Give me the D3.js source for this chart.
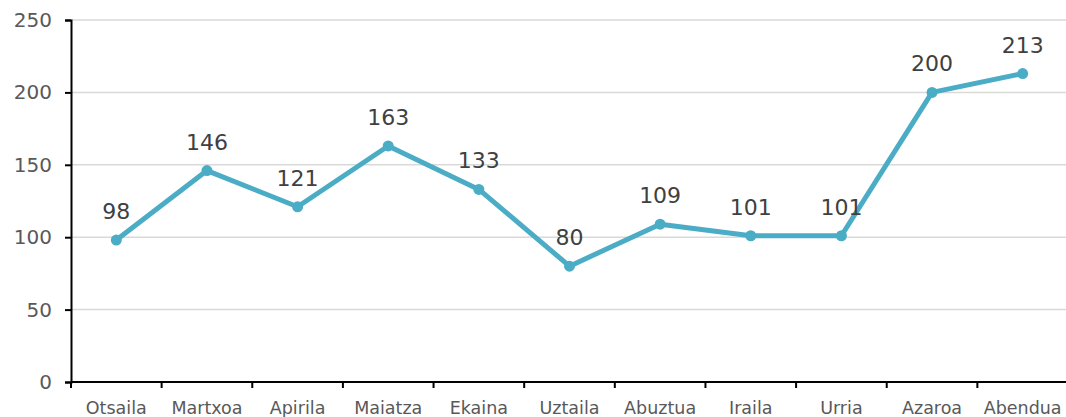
<!DOCTYPE html>
<html>
<head>
<meta charset="utf-8">
<script src="https://cdn.jsdelivr.net/npm/d3@7"></script>
<style>
  body { margin: 0; background: #fff; }
  svg text { font-family: "DejaVu Sans", Verdana, sans-serif; }
</style>
</head>
<body>
<div id="chart"></div>
<script>
// chart data
var months = ["Otsaila", "Martxoa", "Apirila", "Maiatza", "Ekaina", "Uztaila",
  "Abuztua", "Iraila", "Urria", "Azaroa", "Abendua"];
var counts = [98, 146, 121, 163, 133, 80, 109, 101, 101, 200, 213];
var yTicks = [0, 50, 100, 150, 200, 250];

var width = 1066, height = 417;
var margin = { top: 20, left: 71, bottom: 35 };

var svg = d3.select("#chart")
  .append("svg")
  .attr("width", width)
  .attr("height", height);

var x = d3.scaleBand()
  .domain(months)
  .range([margin.left, 1068]);

var y = d3.scaleLinear()
  .domain([0, 250])
  .range([height - margin.bottom, margin.top]);

//gridlines
svg.append("g")
  .selectAll("line")
  .data(yTicks.slice(1))
  .enter()
  .append("line")
  .attr("x1", margin.left)
  .attr("x2", width)
  .attr("y1", function(d) { return y(d); })
  .attr("y2", function(d) { return y(d); })
  .style("stroke", "#d9d9d9")
  .style("stroke-width", 1.5);

//y axis
var yAxis = svg.append("g")
  .attr("transform", "translate(" + margin.left + ",0)")
  .call(d3.axisLeft(y).tickValues(yTicks).tickSize(6).tickPadding(13));
yAxis.select(".domain").style("stroke", "#000").style("stroke-width", 2);
yAxis.selectAll(".tick line").style("stroke", "#000").style("stroke-width", 2);
yAxis.selectAll(".tick text")
  .style("font-size", "20px")
  .style("fill", "#595959");

//x axis, ticks on band boundaries
var xAxis = svg.append("g")
  .attr("transform", "translate(0," + y(0) + ")");
xAxis.append("line")
  .attr("x1", margin.left)
  .attr("x2", width)
  .style("stroke", "#000")
  .style("stroke-width", 2);
xAxis.selectAll(".xtick")
  .data(months)
  .enter()
  .append("line")
  .attr("class", "xtick")
  .attr("x1", function(d) { return x(d); })
  .attr("x2", function(d) { return x(d); })
  .attr("y1", 0)
  .attr("y2", 6)
  .style("stroke", "#000")
  .style("stroke-width", 2);
xAxis.selectAll(".xlabel")
  .data(months)
  .enter()
  .append("text")
  .attr("class", "xlabel")
  .attr("x", function(d) { return x(d) + x.bandwidth() / 2; })
  .attr("y", 32)
  .style("text-anchor", "middle")
  .style("font-size", "17.5px")
  .style("fill", "#595959")
  .text(function(d) { return d; });

//line
var line = d3.line()
  .x(function(d, i) { return x(months[i]) + x.bandwidth() / 2; })
  .y(function(d) { return y(d); });

svg.append("path")
  .datum(counts)
  .attr("d", line)
  .style("fill", "none")
  .style("stroke", "#4bacc6")
  .style("stroke-width", 5)
  .style("stroke-linejoin", "round");

svg.selectAll(".dot")
  .data(counts)
  .enter()
  .append("circle")
  .attr("class", "dot")
  .attr("cx", function(d, i) { return x(months[i]) + x.bandwidth() / 2; })
  .attr("cy", function(d) { return y(d); })
  .attr("r", 5.5)
  .style("fill", "#4bacc6");

//value labels
svg.selectAll(".val")
  .data(counts)
  .enter()
  .append("text")
  .attr("class", "val")
  .attr("x", function(d, i) { return x(months[i]) + x.bandwidth() / 2; })
  .attr("y", function(d) { return y(d) - 21; })
  .style("text-anchor", "middle")
  .style("font-size", "22px")
  .style("fill", "#404040")
  .text(function(d) { return d; });
</script>
</body>
</html>
